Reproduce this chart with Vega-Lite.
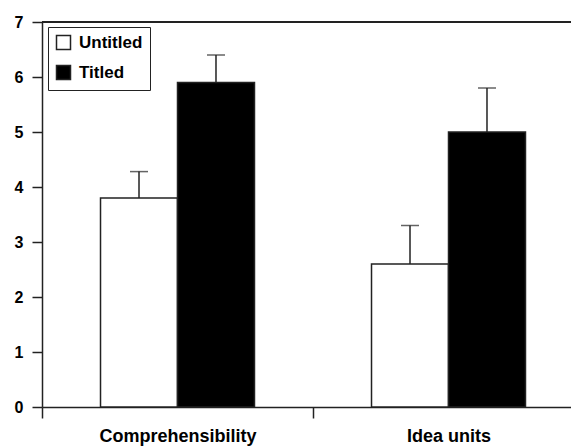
{
  "$schema": "https://vega.github.io/schema/vega-lite/v6.json",
  "autosize": {"type": "none"},
  "padding": {"left": 42, "top": 22, "right": 0, "bottom": 40},
  "width": 529,
  "height": 385,
  "background": "white",
  "config": {
    "view": {"stroke": null},
    "font": "Liberation Sans",
    "axis": {"grid": false, "domainColor": "#222", "domainWidth": 1.5, "tickColor": "#222", "tickWidth": 1.5, "labelColor": "black", "labelFont": "Liberation Sans", "labelFontWeight": "bold", "title": null}
  },
  "data": {"values": [
    {"measure": "Comprehensibility", "condition": "Untitled", "mean": 3.8, "upper": 4.28},
    {"measure": "Comprehensibility", "condition": "Titled", "mean": 5.9, "upper": 6.4},
    {"measure": "Idea units", "condition": "Untitled", "mean": 2.6, "upper": 3.3},
    {"measure": "Idea units", "condition": "Titled", "mean": 5.0, "upper": 5.8}
  ]},
  "layer": [
    {
      "mark": {"type": "bar", "stroke": "#222", "strokeWidth": 1.5},
      "encoding": {
        "x": {"field": "measure", "type": "nominal", "scale": {"range": [0, 542], "paddingInner": 0, "paddingOuter": 0},
          "axis": {"labelAngle": 0, "labelFontSize": 18, "tickSize": 11, "labelPadding": 9, "tickBand": "extent"}},
        "xOffset": {"field": "condition", "type": "nominal", "sort": ["Untitled", "Titled"], "scale": {"paddingInner": 0, "paddingOuter": 0.76}},
        "y": {"field": "mean", "type": "quantitative", "scale": {"domain": [0, 7], "nice": false},
          "axis": {"values": [0, 1, 2, 3, 4, 5, 6, 7], "format": "d", "labelFontSize": 16, "tickSize": 10, "labelPadding": 9}},
        "fill": {"field": "condition", "type": "nominal", "sort": ["Untitled", "Titled"],
          "scale": {"domain": ["Untitled", "Titled"], "range": ["white", "black"]},
          "legend": {"title": null, "orient": "none", "legendX": 6, "legendY": 5, "strokeColor": "#222", "padding": 7,
            "symbolType": "square", "symbolSize": 196, "symbolStrokeColor": "#222", "symbolStrokeWidth": 1.5,
            "labelFontSize": 17, "labelFontWeight": "bold", "labelFont": "Liberation Sans", "labelColor": "black", "rowPadding": 9, "fillColor": "white", "labelOffset": 7, "columnPadding": 10}}
      }
    },
    {
      "mark": {"type": "rule", "color": "#222", "strokeWidth": 1.5},
      "encoding": {
        "x": {"field": "measure", "type": "nominal"},
        "xOffset": {"field": "condition", "type": "nominal", "sort": ["Untitled", "Titled"]},
        "y": {"field": "mean", "type": "quantitative"}, "y2": {"field": "upper"}}
    },
    {
      "mark": {"type": "tick", "color": "#222", "thickness": 1.5, "size": 18},
      "encoding": {
        "x": {"field": "measure", "type": "nominal"},
        "xOffset": {"field": "condition", "type": "nominal", "sort": ["Untitled", "Titled"]},
        "y": {"field": "upper", "type": "quantitative"}}
    },
    {
      "mark": {"type": "rule", "color": "#222", "strokeWidth": 1.5},
      "encoding": {"y": {"datum": 7}}
    }
  ]
}
